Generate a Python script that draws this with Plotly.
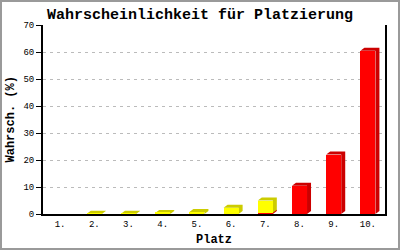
import plotly.graph_objects as go

# ---- data ----
places = ["1.", "2.", "3.", "4.", "5.", "6.", "7.", "8.", "9.", "10."]
red_vals = [0, 0, 0, 0, 0, 0, 0.5, 10.5, 22.0, 60.5]
yellow_vals = [0, 0.1, 0.1, 0.4, 0.7, 2.3, 4.5, 0, 0, 0]
y_ticks = [0, 10, 20, 30, 40, 50, 60, 70]

title_text = "Wahrscheinlichkeit für Platzierung"
x_title = "Platz"
y_title = "Wahrsch. (%)"

# ---- layout geometry ----
W, H = 400, 250
ML, MR, MT, MB = 43, 15, 25, 36
PW, PH = W - ML - MR, H - MT - MB
YMAX = 70
n = len(places)
bar_w = 0.44
dx = 4 / (PW / n)        # shadow offset in x data units (4 px)
dy = 3 / (PH / YMAX)     # shadow offset in y data units (3 px)

colors = {"red": ("#ff0000", "#cc0000"), "yellow": ("#ffff00", "#cccc00")}

fig = go.Figure()
shapes = []
xs = list(range(n))

# stacked segments: red at bottom, yellow on top
segments = []
for i in xs:
    base = 0
    for name, vals in (("red", red_vals), ("yellow", yellow_vals)):
        v = vals[i]
        if v > 0:
            segments.append((i, base, base + v, name))
            base += v

for i, b, t, name in segments:
    x0, x1 = i - bar_w / 2, i + bar_w / 2
    path = (f"M {x0},{t} L {x0+dx},{t+dy} L {x1+dx},{t+dy} "
            f"L {x1+dx},{b+dy} L {x1},{b} L {x1},{t} Z")
    shapes.append(dict(type="path", path=path, xref="x", yref="y",
                       fillcolor=colors[name][1], line=dict(width=0),
                       layer="between"))

for name, vals in (("red", red_vals), ("yellow", yellow_vals)):
    fig.add_trace(go.Bar(x=xs, y=vals, width=bar_w,
                         marker=dict(color=colors[name][0], line=dict(width=0)),
                         name=name, showlegend=False))

# outer gray frame
shapes.append(dict(type="rect", xref="paper", yref="paper",
                   x0=(-ML + 1) / PW, x1=1 + (MR - 1) / PW,
                   y0=(-MB + 1) / PH, y1=1 + (MT - 1) / PH,
                   line=dict(color="#9a9a9a", width=2), layer="above"))

mono = "Liberation Mono"
annotations = [
    dict(text=f"<b>{x_title}</b>", xref="paper", yref="paper",
         x=0.5, y=-(240 - (H - MB)) / PH, xanchor="center", yanchor="middle",
         showarrow=False, font=dict(family=mono, size=12, color="black")),
    dict(text=f"<b>{y_title}</b>", xref="paper", yref="paper",
         x=(10.5 - ML) / PW, y=((H - MB) - 120) / PH, xanchor="center",
         yanchor="middle", textangle=-90,
         showarrow=False, font=dict(family=mono, size=12, color="black")),
]

fig.update_layout(
    template="none",
    barmode="stack",
    width=W, height=H,
    margin=dict(l=ML, r=MR, t=MT, b=MB, pad=0, autoexpand=False),
    paper_bgcolor="white", plot_bgcolor="white",
    shapes=shapes,
    annotations=annotations,
    title=dict(text=f"<b>{title_text}</b>", x=0.5, xref="container",
               xanchor="center", y=1 - 13.5 / H, yref="container",
               yanchor="middle", font=dict(family=mono, size=15, color="black")),
    xaxis=dict(range=[-0.5, n - 0.5], tickvals=xs, ticktext=places,
               automargin=False,
               showline=True, linecolor="black", linewidth=2, mirror=False,
               showgrid=False, zeroline=False, ticks="",
               tickfont=dict(family=mono, size=9, color="black")),
    yaxis=dict(range=[0, YMAX], tickvals=y_ticks, automargin=False,
               showline=True, linecolor="black", linewidth=2, mirror=True,
               showgrid=True, gridcolor="#bbbbbb", griddash="3px,4px", gridwidth=1,
               zeroline=False, ticks="outside", ticklen=5, tickcolor="black",
               tickwidth=1,
               tickfont=dict(family=mono, size=9, color="black")),
)

fig.write_html("out.html")
